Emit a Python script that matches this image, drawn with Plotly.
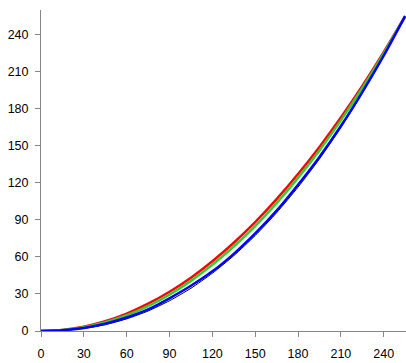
import plotly.graph_objects as go

x_vals = [0, 15, 30, 45, 60, 75, 90, 105, 120, 135, 150, 165, 180, 195, 210, 225, 240, 255]

black_vals = [0, 0.44, 2.07, 5.14, 9.83, 16.2, 24.5, 34.6, 46.8, 61.0, 77.3, 95.8, 116.5, 139.4, 164.7, 192.4, 222.5, 255]
red_vals = [0, 0.9, 3.5, 7.9, 14.1, 22.1, 31.8, 43.2, 56.5, 71.5, 88.2, 106.8, 127.1, 149.1, 172.9, 198.5, 225.9, 255]
green_vals = [0, 0.72, 3.04, 7.03, 12.76, 20.2, 29.5, 40.6, 53.6, 68.4, 85.0, 103.6, 124.0, 146.3, 170.6, 196.8, 224.9, 255]
blue_vals = [0, 0.6, 2.5, 5.9, 10.9, 17.5, 26.5, 36.6, 48.3, 62.5, 79.0, 97.5, 118.5, 141.0, 166.0, 193.5, 223.0, 255]

tick_vals = [0, 30, 60, 90, 120, 150, 180, 210, 240]

fig = go.Figure()
series = [
    ("Black", black_vals, "#000000", 1),
    ("Red", red_vals, "#FF0000", 2.5),
    ("Green", green_vals, "#33CC33", 2.5),
    ("Blue", blue_vals, "#0000FF", 2.5),
]
for name, vals, color, w in series:
    fig.add_trace(go.Scatter(
        x=x_vals, y=vals, mode="lines", name=name,
        line=dict(color=color, width=w, shape="spline", smoothing=0.6),
    ))

axis_common = dict(
    showgrid=False, zeroline=False, showline=True, linecolor="#868686", linewidth=1,
    ticks="outside", ticklen=5, tickcolor="#868686", tickwidth=1,
    tickvals=tick_vals, tickfont=dict(family="Liberation Sans", size=12.5, color="#000000"),
)
fig.update_xaxes(range=[0, 255.6], ticklabelstandoff=6, **axis_common)
fig.update_yaxes(range=[0, 260], ticklabelstandoff=4, **axis_common)

fig.update_layout(
    width=406, height=363,
    margin=dict(l=41, r=0, t=10, b=32, autoexpand=False),
    paper_bgcolor="white", plot_bgcolor="white",
    showlegend=False,
)

fig.write_html(
    "out.html",
    config={"displayModeBar": False},
    post_script="document.body.style.margin='0px';document.body.style.padding='0px';document.body.style.overflow='hidden';",
)
